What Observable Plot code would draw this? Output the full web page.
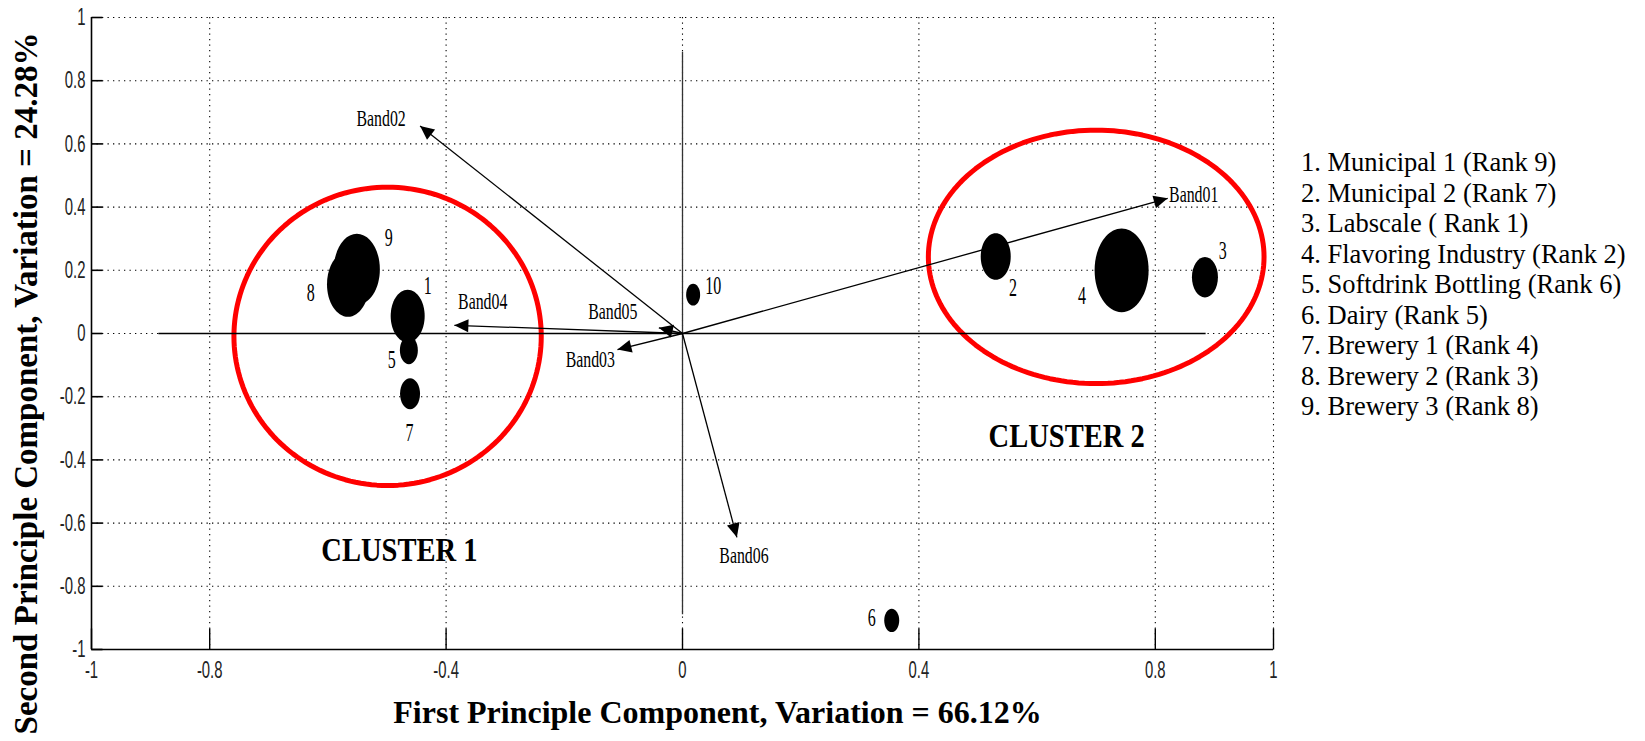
<!DOCTYPE html>
<html><head><meta charset="utf-8">
<script src="https://cdn.jsdelivr.net/npm/d3@7"></script>
<script src="https://cdn.jsdelivr.net/npm/@observablehq/plot@0.6"></script>
<style>
body{margin:0;background:#fff;}
#wrap{position:relative;width:1645px;height:741px;overflow:hidden;background:#fff;}
#chart{position:absolute;left:0;top:0;}
#legend{position:absolute;left:1301px;top:147px;font-family:"Liberation Serif","Times New Roman",serif;font-size:26.5px;line-height:30.5px;color:#000;white-space:nowrap;}
</style></head>
<body><div id="wrap"><div id="chart"></div><div id="legend"></div></div>
<script>
// ---- data ----
const pointIds    = ["1","2","3","4","5","6","7","8","9","10"];
const pointX      = [-0.465, 0.530, 0.884, 0.743, -0.463, 0.354, -0.461, -0.566, -0.551, 0.018];
const pointY      = [ 0.055, 0.244, 0.178, 0.200, -0.053, -0.908, -0.191, 0.156, 0.203, 0.123];
const pointSize   = [17, 15, 13, 27, 9, 7.5, 10, 21, 23, 7];
const pointLabelX = [-0.431, 0.559, 0.914, 0.676, -0.492, 0.320, -0.462, -0.629, -0.497, 0.052];
const pointLabelY = [ 0.149, 0.143, 0.260, 0.118, -0.084, -0.899, -0.314, 0.127, 0.301, 0.149];

const bandNames   = ["Band01","Band02","Band03","Band04","Band05","Band06"];
const bandX       = [0.821, -0.444, -0.110, -0.386, -0.040, 0.092];
const bandY       = [0.428,  0.657, -0.051,  0.026,  0.018, -0.645];
const bandLabelX  = [0.865, -0.510, -0.156, -0.338, -0.118, 0.104];
const bandLabelY  = [0.440,  0.680, -0.082,  0.102,  0.070, -0.703];

const clusterNames = ["CLUSTER 1","CLUSTER 2"];
const clusterCx    = [-0.499, 0.700];
const clusterCy    = [-0.009, 0.2425];
const clusterRx    = [0.260, 0.284];
const clusterRy    = [0.472, 0.401];
const clusterLabelX = [-0.479, 0.650];
const clusterLabelY = [-0.687, -0.324];

const xTickValues = [-1, -0.8, -0.4, 0, 0.4, 0.8, 1];
const xTickLabels = ["-1","-0.8","-0.4","0","0.4","0.8","1"];
const yTickValues = [1, 0.8, 0.6, 0.4, 0.2, 0, -0.2, -0.4, -0.6, -0.8, -1];
const yTickLabels = ["1","0.8","0.6","0.4","0.2","0","-0.2","-0.4","-0.6","-0.8","-1"];
const xGridValues = [-0.8, -0.4, 0, 0.4, 0.8, 1];
const yGridValues = [1, 0.8, 0.6, 0.4, 0.2, 0, -0.2, -0.4, -0.6, -0.8];
const zeroLineExtent = [-0.886, 0.886];
const vertLineExtent = [-0.89, 0.89];

const xTitle = "First Principle Component, Variation = 66.12%";
const yTitle = "Second Principle Component, Variation = 24.28%";
const legendItems = [
  "1. Municipal 1 (Rank 9)",
  "2. Municipal 2 (Rank 7)",
  "3. Labscale ( Rank 1)",
  "4. Flavoring Industry (Rank 2)",
  "5. Softdrink Bottling (Rank 6)",
  "6. Dairy (Rank 5)",
  "7. Brewery 1 (Rank 4)",
  "8. Brewery 2 (Rank 3)",
  "9. Brewery 3 (Rank 8)"
];

// ---- tables ----
const points = pointIds.map((id, i) => ({id, x: pointX[i], y: pointY[i], s: pointSize[i], lx: pointLabelX[i], ly: pointLabelY[i]}));
const W = 1290, H = 741, ML = 91, MR = 17, MT = 17, MB = 92;
const kx = (W - ML - MR) / 2, ky = (H - MT - MB) / 2;
const bands = bandNames.map((name, i) => ({
  name, x: bandX[i], y: bandY[i], lx: bandLabelX[i], ly: bandLabelY[i],
  angle: Math.atan2(bandX[i] * kx, bandY[i] * ky) * 180 / Math.PI
}));
const clusters = clusterNames.map((name, i) => ({name, cx: clusterCx[i], cy: clusterCy[i], rx: clusterRx[i], ry: clusterRy[i], lx: clusterLabelX[i], ly: clusterLabelY[i]}));
const clusterOutline = clusters.flatMap(c => d3.range(0, 181).map(k => {
  const t = k / 180 * 2 * Math.PI;
  return {name: c.name, x: c.cx + c.rx * Math.cos(t), y: c.cy + c.ry * Math.sin(t)};
}));
const xTicks = xTickValues.map((v, i) => ({v, label: xTickLabels[i]}));
const yTicks = yTickValues.map((v, i) => ({v, label: yTickLabels[i]}));

// ---- custom symbols ----
const ASPECT = 1.55;
const ellipseSymbol = {draw(ctx, size) {
  const a = Math.sqrt(size / Math.PI), b = a * ASPECT, k = 0.5523;
  ctx.moveTo(a, 0);
  ctx.bezierCurveTo(a, b * k, a * k, b, 0, b);
  ctx.bezierCurveTo(-a * k, b, -a, b * k, -a, 0);
  ctx.bezierCurveTo(-a, -b * k, -a * k, -b, 0, -b);
  ctx.bezierCurveTo(a * k, -b, a, -b * k, a, 0);
  ctx.closePath();
}};
const arrowHead = {draw(ctx) {
  ctx.moveTo(0, 0); ctx.lineTo(-6.5, 14); ctx.lineTo(6.5, 14); ctx.closePath();
}};
const tickRight = {draw(ctx) { ctx.moveTo(0, 0); ctx.lineTo(11, 0); }};
const tickUp = {draw(ctx) { ctx.moveTo(0, 0); ctx.lineTo(0, -21); }};

const sans = '"Liberation Sans",Arial,sans-serif';
const serif = '"Liberation Serif","Times New Roman",serif';
const dotted = "1.3,4.2";

const chart = Plot.plot({
  width: W, height: H,
  marginLeft: ML, marginRight: MR, marginTop: MT, marginBottom: MB,
  x: {domain: [-1, 1], axis: null},
  y: {domain: [-1, 1], axis: null},
  r: {type: "identity"},
  style: {background: "white", overflow: "visible"},
  marks: [
    Plot.ruleX(xGridValues, {stroke: "#000", strokeWidth: 1.1, strokeDasharray: dotted}),
    Plot.ruleY(yGridValues, {stroke: "#000", strokeWidth: 1.1, strokeDasharray: dotted}),
    Plot.ruleX([-1], {stroke: "#000", strokeWidth: 1.6}),
    Plot.ruleY([-1], {stroke: "#000", strokeWidth: 1.6}),
    Plot.dot(yTicks, {x: () => -1, y: "v", symbol: tickRight, r: 1, stroke: "#000", strokeWidth: 1.6, fill: "none"}),
    Plot.dot(xTicks, {x: "v", y: () => -1, symbol: tickUp, r: 1, stroke: "#000", strokeWidth: 1.4, fill: "none"}),
    Plot.text(yTicks, {x: () => -1, y: "v", text: "label", textAnchor: "end", dx: -6, fontSize: 24, fontFamily: sans, fill: "#222"}),
    Plot.text(xTicks, {x: "v", y: () => -1, text: "label", dy: 21, fontSize: 24, fontFamily: sans, fill: "#222"}),
    // red cluster outlines
    Plot.line(clusterOutline, {x: "x", y: "y", z: "name", stroke: "#f00", strokeWidth: 5}),
    // reference lines
    Plot.ruleY([0], {x1: zeroLineExtent[0], x2: zeroLineExtent[1], stroke: "#000", strokeWidth: 1.6}),
    Plot.ruleX([0], {y1: vertLineExtent[0], y2: vertLineExtent[1], stroke: "#333", strokeWidth: 1.3}),
    // loading arrows
    Plot.link(bands, {x1: () => 0, y1: () => 0, x2: "x", y2: "y", stroke: "#000", strokeWidth: 1.3}),
    Plot.dot(bands, {x: "x", y: "y", symbol: arrowHead, r: 1, rotate: "angle", fill: "#000", stroke: "none"}),
    Plot.text(bands, {x: "lx", y: "ly", text: "name", fontSize: 24, fontFamily: serif, fill: "#000"}),
    // sample blobs
    Plot.dot(points, {x: "x", y: "y", r: "s", symbol: ellipseSymbol, fill: "#000", stroke: "none"}),
    Plot.text(points, {x: "lx", y: "ly", text: "id", fontSize: 25, fontFamily: serif, fill: "#000"}),
    // cluster titles
    Plot.text(clusters, {x: "lx", y: "ly", text: "name", fontSize: 34, fontWeight: "bold", fontFamily: serif, fill: "#000"}),
    // axis titles
    Plot.text([xTitle], {frameAnchor: "bottom", textAnchor: "middle", dx: 35, dy: 73, fontSize: 32, fontWeight: "bold", fontFamily: serif, fill: "#000"}),
    Plot.text([yTitle], {frameAnchor: "left", textAnchor: "middle", rotate: -90, dx: -65, dy: 50, fontSize: 33, fontWeight: "bold", fontFamily: serif, fill: "#000"})
  ]
});

// condense the narrow raster-like fonts of the original (horizontal squeeze about each text's anchor)
const squeeze = [0.62, 0.62, 0.66, 0.64, 0.84];
const isNum = v => v != null && /^-?\d*\.?\d+(e[-+]?\d+)?$/i.test(v.trim());
chart.querySelectorAll('g[aria-label="text"]').forEach((g, gi) => {
  const sx = squeeze[gi];
  if (!sx) return;
  g.querySelectorAll("text").forEach(t => {
    let tr = t.getAttribute("transform") || "";
    const x = t.getAttribute("x"), y = t.getAttribute("y");
    const nx = isNum(x) ? +x : 0, ny = isNum(y) ? +y : 0;
    if (isNum(x)) t.removeAttribute("x");
    if (isNum(y)) t.removeAttribute("y");
    if (nx || ny) tr += ` translate(${nx},${ny})`;
    t.setAttribute("transform", `${tr} scale(${sx},1)`.trim());
  });
});

document.getElementById("chart").appendChild(chart);
document.getElementById("legend").innerHTML = legendItems.map(t => `<div>${t}</div>`).join("");
</script>
</body></html>
